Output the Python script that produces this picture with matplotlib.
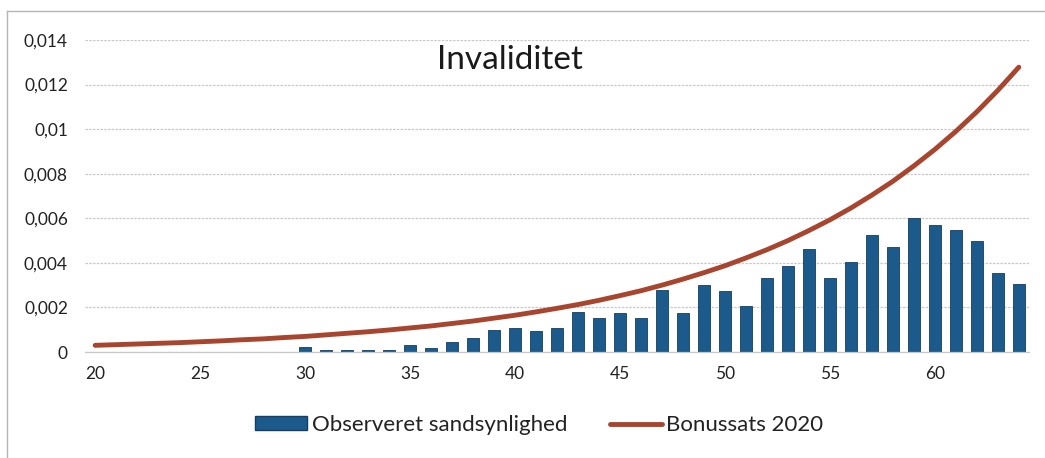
import numpy as np
import matplotlib
matplotlib.use("Agg")
import matplotlib.pyplot as plt
from matplotlib.ticker import FuncFormatter
from matplotlib.lines import Line2D
from matplotlib.patches import Patch

plt.rcParams['font.family'] = ['Lato', 'DejaVu Sans']

# alder 20..64
ages = list(range(20, 65))

# observeret sandsynlighed (ingen observationer 20-29)
observed = [0, 0, 0, 0, 0, 0, 0, 0, 0, 0,
            0.00024, 0.0001, 0.0001, 0.0001, 0.00009,
            0.0003, 0.00018, 0.00044, 0.00062, 0.001,
            0.00107, 0.00096, 0.0011, 0.00179, 0.00151,
            0.00176, 0.00153, 0.0028, 0.00176, 0.003,
            0.00272, 0.00206, 0.00332, 0.00385, 0.0046,
            0.00334, 0.00406, 0.00526, 0.00469, 0.00603,
            0.00571, 0.00549, 0.00499, 0.00355, 0.00304]

# bonussats 2020
bonus = [0.0003, 0.00033, 0.00036, 0.00039, 0.00042,
         0.00046, 0.0005, 0.00055, 0.00059, 0.00065,
         0.0007, 0.00077, 0.00084, 0.00091, 0.00099,
         0.00108, 0.00117, 0.00128, 0.00139, 0.00152,
         0.00165, 0.0018, 0.00196, 0.00213, 0.00232,
         0.00253, 0.00275, 0.003, 0.00327, 0.00356,
         0.00387, 0.00422, 0.00459, 0.005, 0.00545,
         0.00593, 0.00646, 0.00704, 0.00766, 0.00835,
         0.00909, 0.0099, 0.01078, 0.01174, 0.01278]

bar_color = '#1b5a8a'
line_color = '#a8452f'

fig = plt.figure(figsize=(10.45, 4.58), dpi=100)
ax = fig.add_axes([0.081, 0.2314, 0.904, 0.6813])

ax.bar(ages, observed, width=0.57, color=bar_color, edgecolor='#123f63', linewidth=0.6, zorder=2)
ax.plot(ages, bonus, color=line_color, linewidth=3.5, solid_capstyle='round', zorder=3)

ax.set_xlim(19.5, 64.5)
ax.set_ylim(0, 0.014)
ax.set_yticks(np.arange(0, 0.0141, 0.002))
ax.set_xticks(range(20, 65, 5))
ax.yaxis.set_major_formatter(FuncFormatter(lambda v, p: ('%g' % round(v, 4)).replace('.', ',')))
ax.tick_params(axis='both', length=0, labelsize=12.5, colors='#222222')
ax.tick_params(axis='y', pad=12)
ax.tick_params(axis='x', pad=10)
ax.grid(axis='y', color='#c9c9c9', linewidth=0.9, linestyle=(0, (2, 1)), zorder=0)
for s in ['top', 'right', 'left']:
    ax.spines[s].set_visible(False)
ax.spines['bottom'].set_color('#c9c9c9')
ax.spines['bottom'].set_linewidth(0.9)

ax.text(0.45, 0.935, 'Invaliditet', transform=ax.transAxes, ha='center', va='center',
        fontsize=24, color='#1a1a1a')

handles = [Patch(facecolor=bar_color, edgecolor='#123f63'),
           Line2D([0], [0], color=line_color, linewidth=3.5, solid_capstyle='round')]
fig.legend(handles, ['Observeret sandsynlighed', 'Bonussats 2020'],
           loc='center', bbox_to_anchor=(0.516, 0.072), ncol=2, frameon=False,
           fontsize=16, handlelength=2.35, handleheight=0.55, handletextpad=0.2,
           columnspacing=1.9, labelcolor='#222222')

# ramme omkring diagrammet
fig.add_artist(Line2D([0.007, 1.0], [0.976, 0.976], transform=fig.transFigure,
                      color='#b5b5b5', linewidth=1))
fig.add_artist(Line2D([0.007, 0.007], [0.0, 0.976], transform=fig.transFigure,
                      color='#b5b5b5', linewidth=1))

fig.savefig('out.png', dpi=100, facecolor='white')
